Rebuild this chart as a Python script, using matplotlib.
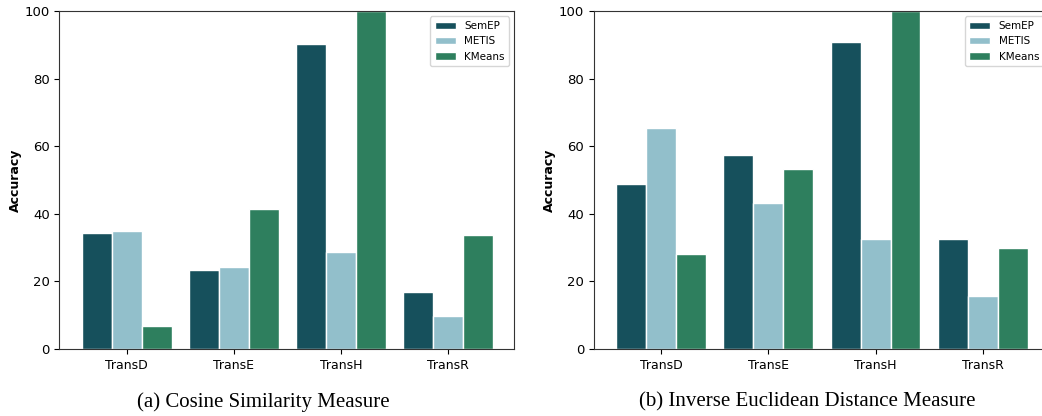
import numpy as np
import matplotlib
matplotlib.use("Agg")
import matplotlib.pyplot as plt

# Data
models = ["TransD", "TransE", "TransH", "TransR"]
methods = ["SemEP", "METIS", "KMeans"]
colors = ["#16505c", "#92bfcb", "#2e7f5e"]

cosine_semep = [34.3, 23.3, 90.2, 17.0]
cosine_metis = [34.8, 24.2, 28.7, 9.9]
cosine_kmeans = [6.8, 41.4, 100.0, 33.9]

euclid_semep = [48.8, 57.4, 90.8, 32.5]
euclid_metis = [65.4, 43.2, 32.5, 15.8]
euclid_kmeans = [28.2, 53.3, 100.0, 29.8]

captions = ["(a) Cosine Similarity Measure", "(b) Inverse Euclidean Distance Measure"]

fig = plt.figure(figsize=(10.42, 4.16), dpi=100)
ax1 = fig.add_axes([0.057, 0.161, 0.4367, 0.812])
ax2 = fig.add_axes([0.570, 0.161, 0.4367, 0.812])

x = np.arange(len(models))
width = 0.28

panels = [
    (ax1, [cosine_semep, cosine_metis, cosine_kmeans]),
    (ax2, [euclid_semep, euclid_metis, euclid_kmeans]),
]

for ax, series in panels:
    for i, vals in enumerate(series):
        ax.bar(x + (i - 1) * width, vals, width, color=colors[i],
               edgecolor="white", linewidth=1, label=methods[i])
    ax.set_xlim(-0.63, 3.62)
    ax.set_ylim(0, 100)
    ax.set_xticks(x)
    ax.set_xticklabels(models, fontsize=9)
    ax.set_yticks([0, 20, 40, 60, 80, 100])
    ax.tick_params(axis="y", labelsize=9.5)
    ax.set_ylabel("Accuracy", fontsize=9, fontweight="bold", labelpad=2)
    for s in ax.spines.values():
        s.set_color("#333333")
    ax.legend(loc="upper right", fontsize=7.5, handlelength=2.0,
              borderpad=0.45, labelspacing=0.5)

fig.text(0.2525, 0.033, captions[0], ha="center", va="center",
         family="Liberation Serif", fontsize=15)
fig.text(0.775, 0.033, captions[1], ha="center", va="center",
         family="Liberation Serif", fontsize=15)

fig.savefig("out.png", dpi=100)
